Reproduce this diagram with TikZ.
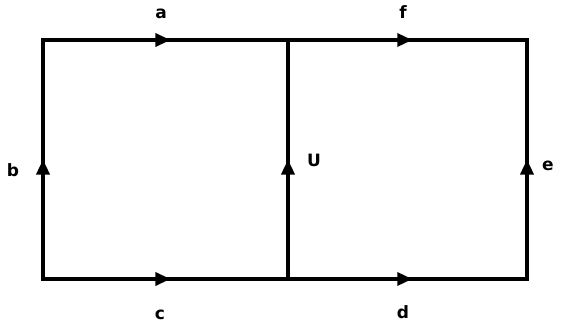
\documentclass[tikz,border=0pt]{standalone}
\usepackage{fontspec}
\setmainfont{DejaVu Sans}
\usetikzlibrary{arrows.meta,decorations.markings}
\begin{document}
\begin{tikzpicture}[x=1pt,y=-1pt,
  edge/.style={line width=3.4pt,
    postaction={decorate},
    decoration={markings,mark=at position #1 with {\arrow{Triangle[length=15pt,width=13pt]}}}},
  edge/.default=0.52,
  lbl/.style={font=\bfseries\fontsize{17}{17}\selectfont, inner sep=0pt}]
\useasboundingbox (0,0) rectangle (566,330);
\coordinate (tl) at (43,40);
\coordinate (tm) at (288,40);
\coordinate (tr) at (527,40);
\coordinate (bl) at (43,279);
\coordinate (bm) at (288,279);
\coordinate (br) at (527,279);
\draw[edge=0.52] (tl) -- (tm);
\draw[edge=0.52] (tm) -- (tr);
\draw[edge=0.52] (bl) -- (bm);
\draw[edge=0.52] (bm) -- (br);
\draw[edge=0.5] (bl) -- (tl);
\draw[edge=0.5] (bm) -- (tm);
\draw[edge=0.5] (br) -- (tr);
\draw[line width=3.4pt] (tl) -- ++(-1.7,0);
\draw[line width=3.4pt] (tr) -- ++(1.7,0);
\draw[line width=3.4pt] (bl) -- ++(-1.7,0);
\draw[line width=3.4pt] (br) -- ++(1.7,0);
\node[lbl] (la) at (161,14) {a};
\node[lbl] (lf) at (403,12) {f};
\node[lbl] (lb) at (13,170) {b};
\node[lbl] (lU) at (314,160) {U};
\node[lbl] (le) at (548,166) {e};
\node[lbl] (lc) at (160,315) {c};
\node[lbl] (ld) at (403,312) {d};
\end{tikzpicture}
\end{document}
